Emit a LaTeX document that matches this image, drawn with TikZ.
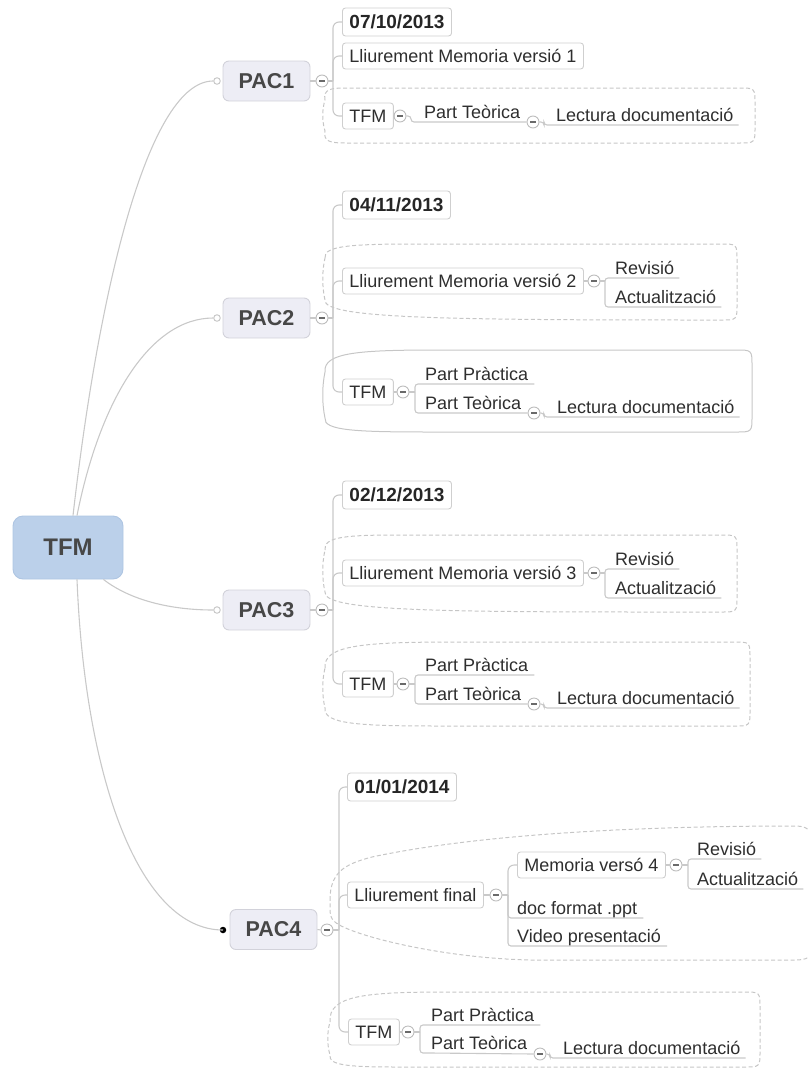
\documentclass[tikz,border=0pt]{standalone}
\usepackage{fontspec}
\setmainfont{Liberation Sans}
\definecolor{lnc}{HTML}{C9C9C9}
\definecolor{bxc}{HTML}{CFCFCF}
\definecolor{txtc}{HTML}{2E2E2E}
\definecolor{pacf}{HTML}{EDEDF5}
\definecolor{pacb}{HTML}{D2D2DA}
\definecolor{pact}{HTML}{474747}
\definecolor{rootf}{HTML}{BBD0EA}
\definecolor{rootb}{HTML}{AEC5E2}
\definecolor{bndc}{HTML}{C6C6C6}
\definecolor{mnc}{HTML}{BDBDBD}
\definecolor{mdash}{HTML}{6A6A6A}
\newcommand{\mfs}{\fontsize{18}{21}\selectfont}
\newcommand{\dfs}{\bfseries\fontsize{19}{22}\selectfont}
\newcommand{\pfs}{\bfseries\fontsize{21.5}{24}\selectfont}
\newcommand{\rfs}{\bfseries\fontsize{24}{28}\selectfont}
\newcommand{\blobshape}[9][]{%
\draw[bnd,#1] (#2,#4) .. controls ({#2-2},{#4-(#4-#5)*0.9}) and ({#2+(#8-#2)*0.3},#5) .. (#8,#5) -- ({#3-16},#5) .. controls (#3,#5) .. (#3,{#5+16}) -- (#3,{#7-16}) .. controls (#3,#7) .. ({#3-16},#7) -- (#9,#7) .. controls ({#2+(#9-#2)*0.3},#7) and ({#2-2},{#6+(#7-#6)*0.9}) .. (#2,#6) .. controls ({#2-3},{#6-(#6-#4)*0.3}) and ({#2-3},{#4+(#6-#4)*0.3}) .. cycle;}
\begin{document}
\begin{tikzpicture}[x=1pt,y=-1pt,
 ln/.style={draw=lnc, line width=1.1},
 bx/.style={draw=bxc, fill=white, rounded corners=3, line width=0.9, minimum height=26, inner xsep=7, inner ysep=0, font=\mfs, text=txtc, anchor=west},
 dt/.style={bx, font=\dfs, minimum height=28, text=black!85},
 pac/.style={draw=pacb, fill=pacf, rounded corners=6, line width=0.9, minimum width=87, minimum height=40, inner sep=0, font=\pfs, text=pact},
 rootbox/.style={draw=rootb, fill=rootf, rounded corners=10, line width=0.9, minimum width=110, minimum height=63, inner sep=0, font=\rfs, text=pact},
 ul/.style={font=\mfs, text=txtc, inner sep=0, text depth=3.5, anchor=south west},
 mn/.style={circle, draw=mnc, fill=white, minimum size=12, inner sep=0, line width=0.9,
   path picture={\draw[mdash, line width=1.3] ([xshift=-2.6]path picture bounding box.center) -- ([xshift=2.6]path picture bounding box.center);}},
 sc/.style={circle, draw=lnc, fill=white, minimum size=6.5, inner sep=0, line width=1},
 bnd/.style={draw=bndc, dash pattern=on 4 off 2.5, line width=1},
 solidbnd/.style={solid},
 rc/.style={rounded corners=6},
 rs/.style={rounded corners=3}
]
\useasboundingbox (0,0) rectangle (807,1068);

% ---------- boundaries ----------
\blobshape{325}{755}{100}{88}{131}{143}{345}{345}
\blobshape{325}{737}{258}{244}{300}{320}{420}{700}
\blobshape[solidbnd]{325}{752}{372}{350}{418}{432}{440}{430}
\blobshape{325}{737}{550}{535}{592}{612}{400}{650}
\blobshape{325}{750}{668}{642}{708}{726}{460}{440}
\blobshape{330}{760}{1022}{992}{1055}{1067}{450}{400}
\draw[bnd] (330,900) .. controls (330,872) and (345,864) .. (372,857) .. controls (470,836) and (620,826) .. (795,826) .. controls (812,826) and (813,835) .. (813,845) -- (813,945) .. controls (813,958) and (806,960) .. (795,960) -- (530,960) .. controls (440,958) and (350,935) .. (335,922) .. controls (330,917) .. cycle;

% ---------- root ----------
\node[rootbox] (root) at (68,547.5) {TFM};

% ---------- PAC1 ----------
\node[pac] (p1) at (266.5,81) {PAC1};
\node[sc] (c1) at (217,81) {};
\node[mn] (m1) at (322,81) {};
\coordinate (k1) at (333,81);
\draw[ln] (p1.east) -- (m1.west);
\draw[ln] (m1.east) -- (k1);
\node[dt] (d1) at (342,22) {07/10/2013};
\node[bx] (l1) at (342,56) {Lliurement Memoria versió 1};
\node[bx] (t1) at (342,116) {TFM};
\draw[ln,rc] (k1) |- (d1.west);
\draw[ln,rc] (k1) |- (l1.west);
\draw[ln,rc] (k1) |- (t1.west);
\node[mn] (tm1) at (400,116) {};
\draw[ln] (t1.east) -- (tm1.west);
\node[ul] (pt1) at (424,122) {Part Teòrica};
\node[mn] (pm1) at (533,122) {};
\draw[ln,rs] (tm1.east) -- (411,116) |- (pt1.south west) -- (pm1.west);
\node[ul] (ld1) at (556,125) {Lectura documentació};
\draw[ln,rs] (pm1.east) -- (544,122) |- (ld1.south west) -- ([xshift=5]ld1.south east);

% ---------- PAC2 ----------
\node[pac] (p2) at (266.5,318) {PAC2};
\node[sc] (c2) at (217,318) {};
\node[mn] (m2) at (322,318) {};
\coordinate (k2) at (333,318);
\draw[ln] (p2.east) -- (m2.west);
\draw[ln] (m2.east) -- (k2);
\node[dt] (d2) at (342,205) {04/11/2013};
\node[bx] (l2) at (342,281) {Lliurement Memoria versió 2};
\node[bx] (t2) at (342,392) {TFM};
\draw[ln,rc] (k2) |- (d2.west);
\draw[ln,rc] (k2) |- (l2.west);
\draw[ln,rc] (k2) |- (t2.west);
\node[mn] (lm2) at (594,281) {};
\coordinate (b2) at (605,281);
\draw[ln] (l2.east) -- (lm2.west);
\draw[ln] (lm2.east) -- (b2);
\node[ul] (r2) at (615,278) {Revisió};
\node[ul] (a2) at (615,307) {Actualització};
\draw[ln,rs] (b2) |- (r2.south west) -- ([xshift=5]r2.south east);
\draw[ln,rs] (b2) |- (a2.south west) -- ([xshift=5]a2.south east);
\node[mn] (tm2) at (403,392) {};
\coordinate (bt2) at (415,392);
\draw[ln] (t2.east) -- (tm2.west);
\draw[ln] (tm2.east) -- (bt2);
\node[ul] (pp2) at (425,384) {Part Pràctica};
\node[ul] (pt2) at (425,413) {Part Teòrica};
\node[mn] (pm2) at (534,413) {};
\draw[ln,rs] (bt2) |- (pp2.south west) -- ([xshift=6]pp2.south east);
\draw[ln,rs] (bt2) |- (pt2.south west) -- (pm2.west);
\node[ul] (ld2) at (557,417) {Lectura documentació};
\draw[ln,rs] (pm2.east) -- (544,413) |- (ld2.south west) -- ([xshift=5]ld2.south east);

% ---------- PAC3 ----------
\node[pac] (p3) at (266.5,610) {PAC3};
\node[sc] (c3) at (217,610) {};
\node[mn] (m3) at (322,610) {};
\coordinate (k3) at (333,610);
\draw[ln] (p3.east) -- (m3.west);
\draw[ln] (m3.east) -- (k3);
\node[dt] (d3) at (342,495) {02/12/2013};
\node[bx] (l3) at (342,573) {Lliurement Memoria versió 3};
\node[bx] (t3) at (342,684) {TFM};
\draw[ln,rc] (k3) |- (d3.west);
\draw[ln,rc] (k3) |- (l3.west);
\draw[ln,rc] (k3) |- (t3.west);
\node[mn] (lm3) at (594,573) {};
\coordinate (b3) at (605,573);
\draw[ln] (l3.east) -- (lm3.west);
\draw[ln] (lm3.east) -- (b3);
\node[ul] (r3) at (615,569) {Revisió};
\node[ul] (a3) at (615,598) {Actualització};
\draw[ln,rs] (b3) |- (r3.south west) -- ([xshift=5]r3.south east);
\draw[ln,rs] (b3) |- (a3.south west) -- ([xshift=5]a3.south east);
\node[mn] (tm3) at (403,684) {};
\coordinate (bt3) at (415,684);
\draw[ln] (t3.east) -- (tm3.west);
\draw[ln] (tm3.east) -- (bt3);
\node[ul] (pp3) at (425,675) {Part Pràctica};
\node[ul] (pt3) at (425,704) {Part Teòrica};
\node[mn] (pm3) at (534,704) {};
\draw[ln,rs] (bt3) |- (pp3.south west) -- ([xshift=6]pp3.south east);
\draw[ln,rs] (bt3) |- (pt3.south west) -- (pm3.west);
\node[ul] (ld3) at (557,708) {Lectura documentació};
\draw[ln,rs] (pm3.east) -- (544,704) |- (ld3.south west) -- ([xshift=5]ld3.south east);

% ---------- PAC4 ----------
\node[pac] (p4) at (273.5,929.5) {PAC4};
\node[circle, fill=black, minimum size=6.5, inner sep=0] (c4) at (223,930) {};
\node[mn] (m4) at (327,930) {};
\coordinate (k4) at (339,930);
\draw[ln] (p4.east) -- (m4.west);
\draw[ln] (m4.east) -- (k4);
\node[dt] (d4) at (347,787) {01/01/2014};
\node[bx] (lf) at (347,895) {Lliurement final};
\node[bx] (t4) at (348,1032) {TFM};
\draw[ln,rc] (k4) |- (d4.west);
\draw[ln,rc] (k4) |- (lf.west);
\draw[ln,rc] (k4) |- (t4.west);
\node[mn] (lfm) at (496,895) {};
\coordinate (bf) at (508,895);
\draw[ln] (lf.east) -- (lfm.west);
\draw[ln] (lfm.east) -- (bf);
\node[bx] (mv) at (517,865) {Memoria versó 4};
\node[ul] (doc) at (517,918) {doc format .ppt};
\node[ul] (vid) at (517,946) {Video presentació};
\draw[ln,rc] (bf) |- (mv.west);
\draw[ln,rs] (bf) |- (doc.south west) -- ([xshift=6]doc.south east);
\draw[ln,rs] (bf) |- (vid.south west) -- ([xshift=6]vid.south east);
\node[mn] (mvm) at (676,865) {};
\coordinate (bmv) at (688,865);
\draw[ln] (mv.east) -- (mvm.west);
\draw[ln] (mvm.east) -- (bmv);
\node[ul] (r4) at (697,859) {Revisió};
\node[ul] (a4) at (697,889) {Actualització};
\draw[ln,rs] (bmv) |- (r4.south west) -- ([xshift=5]r4.south east);
\draw[ln,rs] (bmv) |- (a4.south west) -- ([xshift=5]a4.south east);
\node[mn] (tm4) at (408,1032) {};
\coordinate (bt4) at (420,1032);
\draw[ln] (t4.east) -- (tm4.west);
\draw[ln] (tm4.east) -- (bt4);
\node[ul] (pp4) at (431,1025) {Part Pràctica};
\node[ul] (pt4) at (431,1053) {Part Teòrica};
\node[mn] (pm4) at (540,1054) {};
\draw[ln,rs] (bt4) |- (pp4.south west) -- ([xshift=6]pp4.south east);
\draw[ln,rs] (bt4) |- (pt4.south west) -- (pm4.west);
\node[ul] (ld4) at (563,1058) {Lectura documentació};
\draw[ln,rs] (pm4.east) -- (550,1054) |- (ld4.south west) -- ([xshift=5]ld4.south east);

% ---------- root connectors ----------
\draw[ln] ([xshift=5]root.north) .. controls (100,280) and (150,81) .. (c1.west);
\draw[ln] ([xshift=9]root.north) .. controls (100,400) and (150,318) .. (c2.west);
\draw[ln] ([xshift=-20]root.south east) .. controls (130,600) and (170,610) .. (c3.west);
\draw[ln] ([xshift=9]root.south) .. controls (85,780) and (140,930) .. (c4.center);
\end{tikzpicture}
\end{document}
